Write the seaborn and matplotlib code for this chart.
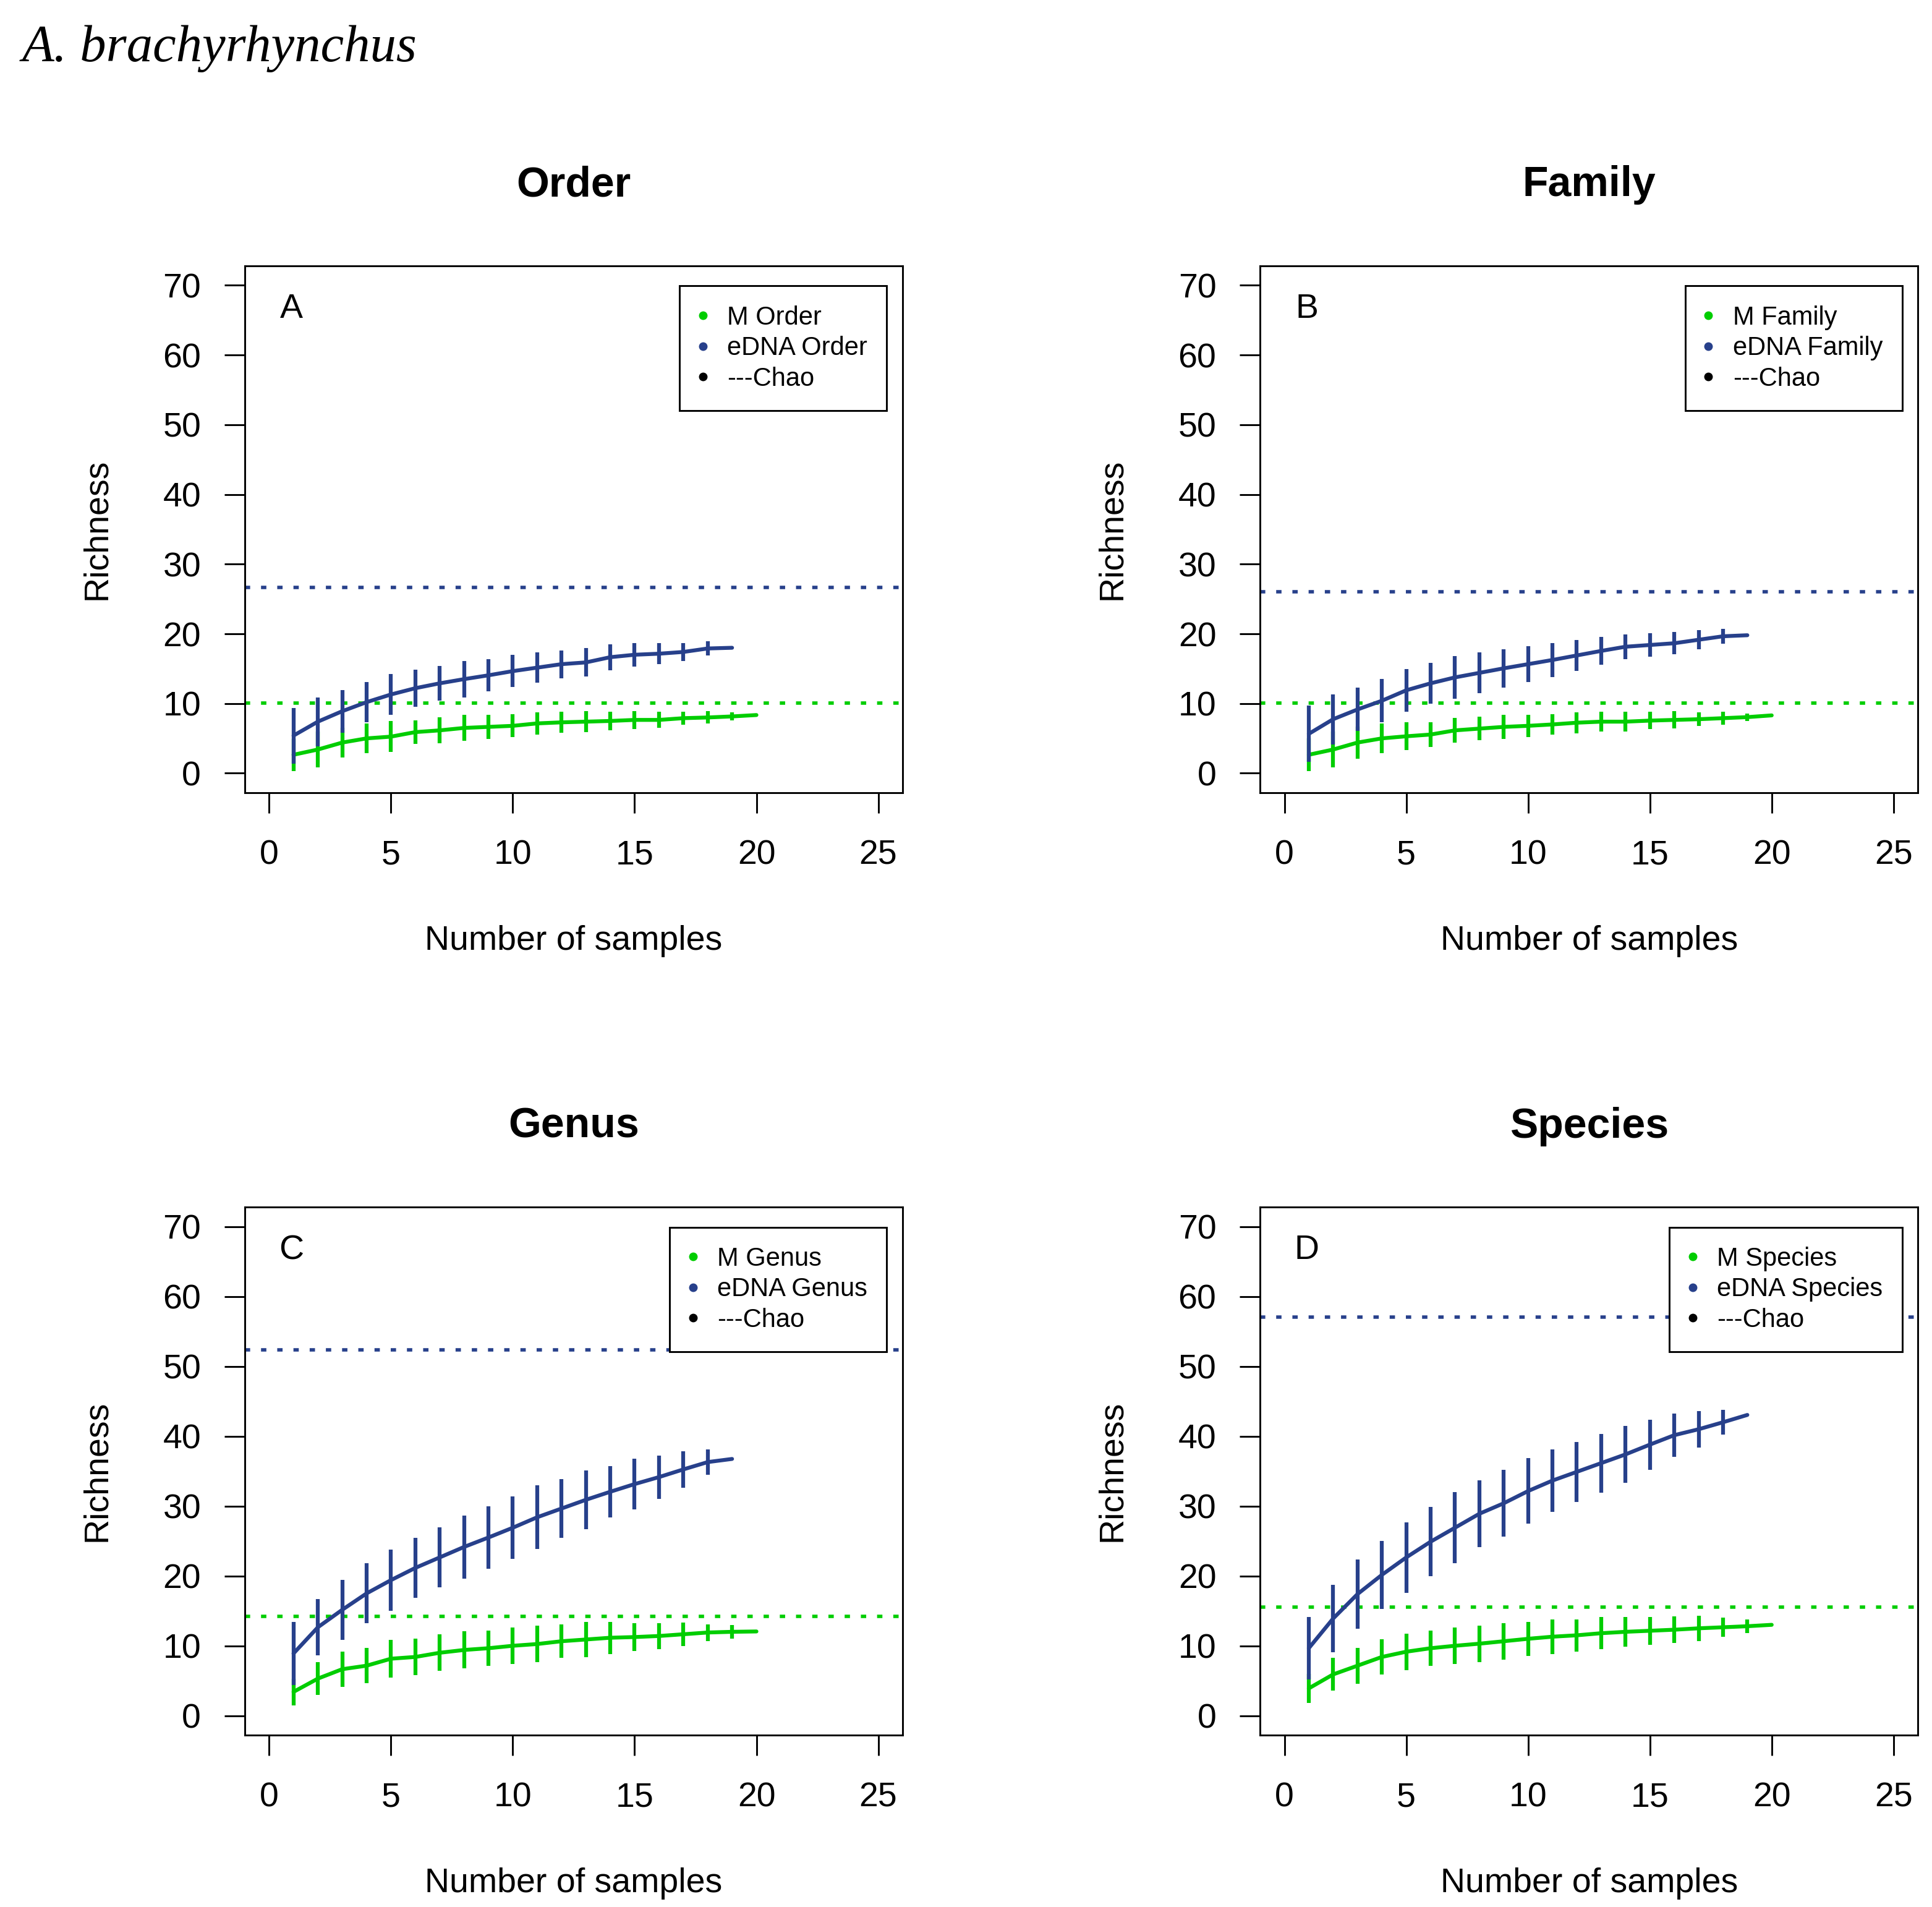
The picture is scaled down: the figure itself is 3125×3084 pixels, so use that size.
import matplotlib
matplotlib.use('Agg')
import matplotlib.pyplot as plt
from matplotlib.lines import Line2D
import seaborn as sns

# sample counts (x) for morphological (M) and eDNA accumulation curves
samples_m = list(range(1, 21))
samples_e = list(range(1, 20))

# Order
order_m = [2.65, 3.4, 4.4, 5.0, 5.25, 5.9, 6.15, 6.5, 6.65, 6.8,
           7.15, 7.3, 7.4, 7.5, 7.65, 7.65, 7.9, 8.0, 8.15, 8.35]
order_m_ci = [2.3, 2.6, 2.15, 2.1, 2.2, 1.7, 1.85, 1.85, 1.7, 1.65,
              1.6, 1.5, 1.5, 1.3, 1.3, 1.15, 0.9, 0.9, 0.55, 0.0]
order_e = [5.4, 7.4, 8.9, 10.2, 11.3, 12.2, 12.9, 13.5, 14.05, 14.65,
           15.15, 15.65, 15.9, 16.65, 17.0, 17.15, 17.4, 17.9, 18.0]
order_e_ci = [4.0, 3.5, 3.05, 2.9, 2.9, 2.7, 2.5, 2.6, 2.3, 2.3,
              2.15, 2.0, 2.05, 1.85, 1.7, 1.5, 1.3, 1.0, 0.0]

# Family
family_m = [2.65, 3.4, 4.4, 5.0, 5.3, 5.55, 6.15, 6.4, 6.65, 6.8,
            7.0, 7.25, 7.4, 7.4, 7.55, 7.65, 7.75, 7.9, 8.05, 8.3]
family_m_ci = [2.35, 2.6, 2.3, 2.1, 2.0, 1.8, 1.8, 1.7, 1.7, 1.6,
               1.5, 1.5, 1.4, 1.4, 1.25, 1.25, 1.0, 0.9, 0.55, 0.0]
family_e = [5.65, 7.75, 9.15, 10.4, 11.9, 12.9, 13.75, 14.4, 15.05, 15.65,
            16.25, 16.9, 17.55, 18.15, 18.4, 18.65, 19.15, 19.65, 19.8]
family_e_ci = [4.05, 3.6, 3.1, 3.1, 3.05, 2.9, 3.1, 2.9, 2.75, 2.6,
               2.45, 2.25, 2.0, 1.8, 1.65, 1.6, 1.35, 1.05, 0.0]

# Genus
genus_m = [3.4, 5.3, 6.65, 7.15, 8.15, 8.4, 9.0, 9.4, 9.65, 10.0,
           10.25, 10.65, 10.9, 11.15, 11.25, 11.4, 11.65, 11.9, 12.0, 12.05]
genus_m_ci = [1.9, 2.35, 2.55, 2.5, 2.7, 2.6, 2.6, 2.65, 2.5, 2.6,
              2.6, 2.4, 2.5, 2.3, 2.0, 1.85, 1.7, 1.2, 1.0, 0.0]
genus_e = [8.9, 12.65, 15.15, 17.5, 19.4, 21.15, 22.65, 24.15, 25.5, 26.9,
           28.4, 29.65, 30.9, 32.05, 33.15, 34.15, 35.25, 36.3, 36.75]
genus_e_ci = [4.5, 4.0, 4.3, 4.3, 4.4, 4.3, 4.3, 4.5, 4.5, 4.5,
              4.55, 4.2, 4.2, 3.7, 3.6, 3.1, 2.6, 1.85, 0.0]

# Species
species_m = [3.9, 5.9, 7.15, 8.4, 9.15, 9.65, 10.0, 10.3, 10.65, 11.0,
             11.3, 11.5, 11.8, 12.0, 12.15, 12.3, 12.5, 12.65, 12.8, 13.0]
species_m_ci = [2.1, 2.35, 2.55, 2.5, 2.6, 2.5, 2.6, 2.6, 2.6, 2.45,
                2.5, 2.3, 2.3, 2.1, 2.0, 1.9, 1.8, 1.4, 1.0, 0.0]
species_e = [9.65, 13.9, 17.4, 20.15, 22.65, 24.9, 26.9, 28.9, 30.4, 32.15,
             33.65, 34.9, 36.15, 37.4, 38.8, 40.15, 41.0, 42.0, 43.05]
species_e_ci = [4.5, 4.8, 4.95, 4.9, 5.05, 4.95, 5.1, 4.8, 4.8, 4.7,
                4.5, 4.3, 4.2, 4.05, 3.6, 3.1, 2.6, 1.8, 0.0]

# Chao estimates (horizontal dotted lines)
chao_m = [10.1, 10.1, 14.25, 15.5]
chao_e = [26.65, 26.05, 52.4, 57.1]

levels = ['Order', 'Family', 'Genus', 'Species']
letters = ['A', 'B', 'C', 'D']
m_means = [order_m, family_m, genus_m, species_m]
m_cis = [order_m_ci, family_m_ci, genus_m_ci, species_m_ci]
e_means = [order_e, family_e, genus_e, species_e]
e_cis = [order_e_ci, family_e_ci, genus_e_ci, species_e_ci]

GREEN = '#00CD00'
BLUE = '#27408B'

sns.set_theme(style='ticks')
plt.rcParams['font.family'] = ['Liberation Sans', 'DejaVu Sans']
plt.rcParams['text.color'] = 'black'
plt.rcParams['axes.labelcolor'] = 'black'

fig = plt.figure(figsize=(31.25, 30.84), dpi=100)
positions = [[0.1267, 0.5843, 0.3405, 0.2763],
             [0.6522, 0.5843, 0.3405, 0.2763],
             [0.1267, 0.0901, 0.3405, 0.2769],
             [0.6522, 0.0901, 0.3405, 0.2769]]

dots = (0, (1.55, 3.17))

for i, pos in enumerate(positions):
    ax = fig.add_axes(pos)
    lo_m = [m - c for m, c in zip(m_means[i], m_cis[i])]
    hi_m = [m + c for m, c in zip(m_means[i], m_cis[i])]
    lo_e = [m - c for m, c in zip(e_means[i], e_cis[i])]
    hi_e = [m + c for m, c in zip(e_means[i], e_cis[i])]

    # M curve first, eDNA on top
    sns.lineplot(x=samples_m, y=m_means[i], ax=ax, color=GREEN, lw=4.5, legend=False)
    ax.vlines(samples_m, lo_m, hi_m, color=GREEN, lw=4.5)
    ax.axhline(chao_m[i], color=GREEN, lw=4.0, linestyle=dots, dash_capstyle='butt')
    sns.lineplot(x=samples_e, y=e_means[i], ax=ax, color=BLUE, lw=4.5, legend=False)
    ax.vlines(samples_e, lo_e, hi_e, color=BLUE, lw=4.5)
    ax.axhline(chao_e[i], color=BLUE, lw=4.0, linestyle=dots, dash_capstyle='butt')

    ax.set_xlim(-1, 26)
    ax.set_ylim(-2.8, 72.8)
    ax.set_xticks([0, 5, 10, 15, 20, 25])
    ax.set_yticks([0, 10, 20, 30, 40, 50, 60, 70])
    for s in ax.spines.values():
        s.set_visible(True)
        s.set_linewidth(2.1)
        s.set_color('black')
    ax.tick_params(axis='both', direction='out', length=24, width=2.1,
                   labelsize=40, colors='black')
    ax.tick_params(axis='x', pad=30)
    ax.tick_params(axis='y', pad=27)

    ax.set_title(levels[i], fontsize=49, fontweight='bold', pad=81, color='black')
    ax.set_xlabel('Number of samples', fontsize=40)
    ax.set_ylabel('Richness', fontsize=40)
    ax.xaxis.set_label_coords(0.5, -0.251)
    ax.yaxis.set_label_coords(-0.2, 0.5)

    ax.text(0.071, 0.918, letters[i], transform=ax.transAxes, fontsize=40,
            ha='center', va='center')

    handles = [Line2D([], [], marker='o', ls='', color=GREEN, markersize=9),
               Line2D([], [], marker='o', ls='', color=BLUE, markersize=9),
               Line2D([], [], marker='o', ls='', color='black', markersize=9)]
    names = ['M ' + levels[i], 'eDNA ' + levels[i], '---Chao']
    leg = ax.legend(handles, names, loc='upper right', bbox_to_anchor=(0.976, 0.962),
                    borderaxespad=0, fontsize=30, frameon=True, fancybox=False,
                    borderpad=0.75, labelspacing=0.23, handlelength=0.3,
                    handletextpad=0.8, framealpha=1)
    leg.get_frame().set_edgecolor('black')
    leg.get_frame().set_linewidth(2.1)

fig.text(0.0115, 0.968, 'A. brachyrhynchus', fontsize=61, style='italic',
         family=['Liberation Serif', 'DejaVu Serif'], ha='left', va='baseline')

fig.savefig('out.png', dpi=100)
